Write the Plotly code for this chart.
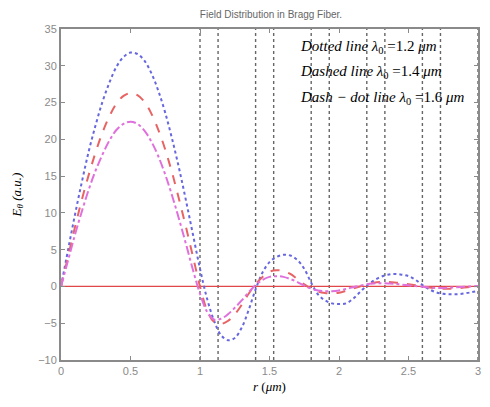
import plotly.graph_objects as go

r = [round(i * 0.05, 2) for i in range(61)]

E_dotted_12 = [0, 4.9, 9.7, 14.2, 18.4, 22.0, 25.2, 27.8, 29.9, 31.2, 31.8, 31.6, 30.7, 29.0, 26.6,
               23.6, 20.0, 16.0, 11.6, 7.0, 2.4, -1.6, -4.6, -6.6, -7.3, -7.0, -5.6, -3.2, -0.4, 1.9,
               3.3, 4.0, 4.3, 4.2, 3.6, 2.4, 0.5, -1.1, -1.9, -2.3, -2.4, -2.3, -1.7, -0.8, 0.1,
               0.8, 1.3, 1.6, 1.7, 1.6, 1.4, 0.9, 0.2, -0.4, -0.8, -1.0, -1.05, -1.05, -0.95, -0.8, -0.6]

E_dashed_14 = [0, 4.0, 8.0, 11.8, 15.2, 18.3, 21.0, 23.2, 24.9, 25.9, 26.3, 26.0, 25.1, 23.5, 21.3,
               18.6, 15.4, 11.8, 8.0, 4.0, 0.0, -3.2, -4.8, -5.1, -4.7, -3.8, -2.5, -1.0, 0.3, 1.3,
               2.0, 2.2, 2.1, 1.7, 1.0, 0.3, -0.3, -0.7, -0.9, -0.95, -0.85, -0.6, -0.3, 0.0, 0.3,
               0.5, 0.6, 0.6, 0.55, 0.45, 0.3, 0.15, 0.0, -0.15, -0.25, -0.3, -0.3, -0.25, -0.15, -0.05, 0.05]

E_dashdot_16 = [0, 3.5, 7.0, 10.2, 13.2, 15.8, 18.0, 19.9, 21.3, 22.1, 22.4, 22.1, 21.2, 19.7, 17.7,
                15.2, 12.3, 9.1, 5.7, 2.2, -1.0, -3.4, -4.5, -4.4, -3.8, -2.9, -1.9, -0.8, 0.2, 0.9,
                1.3, 1.4, 1.3, 1.0, 0.6, 0.1, -0.3, -0.55, -0.65, -0.65, -0.55, -0.35, -0.1, 0.1, 0.3,
                0.4, 0.45, 0.4, 0.35, 0.25, 0.15, 0.05, -0.05, -0.15, -0.2, -0.2, -0.15, -0.1, -0.05, 0.0, 0.05]

layer_boundaries = [1.0, 1.13, 1.4, 1.53, 1.8, 1.93, 2.2, 2.33, 2.6, 2.73, 3.0]

x_ticks = [0, 0.5, 1, 1.5, 2, 2.5, 3]
x_tick_text = ["0", "0.5", "1", "1.5", "2", "2.5", "3"]
y_ticks = [-10, -5, 0, 5, 10, 15, 20, 25, 30, 35]

legend_lines = [
    "<i>Dotted line λ</i><sub>0</sub> =1.2 <i>μm</i>",
    "<i>Dashed line λ</i><sub>0</sub> =1.4 <i>μm</i>",
    "<i>Dash − dot line λ</i><sub>0</sub> =1.6 <i>μm</i>",
]

fig = go.Figure()

# layer boundaries (vertical dotted lines)
vx, vy = [], []
for b in layer_boundaries:
    vx += [b, b, None]
    vy += [-10, 35, None]
fig.add_trace(go.Scatter(x=vx, y=vy, mode="lines",
                         line=dict(color="#666666", width=1.4, dash="dot"),
                         showlegend=False, hoverinfo="skip"))

# zero line
fig.add_trace(go.Scatter(x=[0, 3], y=[0, 0], mode="lines",
                         line=dict(color="#e04848", width=1.3), showlegend=False))

fig.add_trace(go.Scatter(x=r, y=E_dotted_12, mode="lines", line_shape="spline",
                         line=dict(color="#6767df", width=2, dash="dot"), showlegend=False))
fig.add_trace(go.Scatter(x=r, y=E_dashed_14, mode="lines", line_shape="spline",
                         line=dict(color="#e86464", width=2, dash="dash"), showlegend=False))
fig.add_trace(go.Scatter(x=r, y=E_dashdot_16, mode="lines", line_shape="spline",
                         line=dict(color="#e070dc", width=2, dash="dashdot"), showlegend=False))

for i, t in enumerate(legend_lines):
    fig.add_annotation(x=300, y=47 + 25.5 * i, xref="paper", yref="paper",
                       text=t, showarrow=False,
                       xanchor="left", yanchor="middle",
                       font=dict(family="Liberation Serif", size=15, color="black"))

axis_common = dict(showline=True, linecolor="#8a8a8a", linewidth=2, mirror="ticks",
                   ticks="inside", ticklen=4, tickcolor="#8a8a8a", tickwidth=1,
                   showgrid=False, zeroline=False,
                   tickfont=dict(family="Liberation Sans", size=11, color="#8a8a8a"))

fig.update_layout(
    width=490, height=407,
    margin=dict(l=61, r=9, t=29, b=47),
    paper_bgcolor="white", plot_bgcolor="white",
    title=dict(text="Field Distribution in Bragg Fiber.", x=0.553, xanchor="center",
               y=1 - 14 / 407, yanchor="middle",
               font=dict(family="Liberation Sans", size=10, color="#666666")),
    xaxis=dict(range=[0, 3], tickvals=x_ticks, ticktext=x_tick_text,
               title=dict(text="<i>r</i> (<i>μm</i>)", standoff=6,
                          font=dict(family="Liberation Serif", size=13, color="black")),
               **axis_common),
    yaxis=dict(range=[-10, 35], tickvals=y_ticks,
               title=dict(text="<i>E<sub>θ</sub> (a.u.)</i>", standoff=14,
                          font=dict(family="Liberation Serif", size=13, color="black")),
               **axis_common),
)

# convert pixel-based annotation positions to paper coords
plot_w = 490 - 61 - 9
plot_h = 407 - 29 - 47
for a in fig.layout.annotations:
    a.x = (a.x - 61) / plot_w
    a.y = 1 - (a.y - 29) / plot_h

fig.write_html("out.html")
